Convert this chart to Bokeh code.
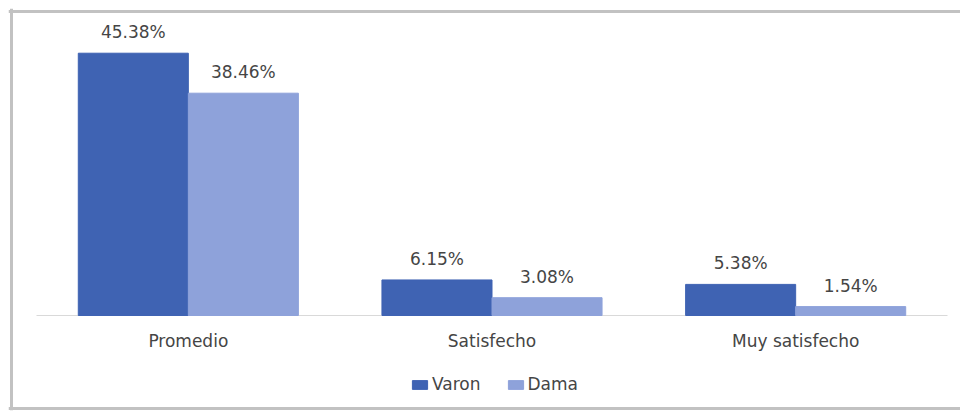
from bokeh.plotting import figure
from bokeh.models import Range1d, ColumnDataSource, Legend, LegendItem, Span
from bokeh.core.properties import value
from bokeh.embed import file_html
from bokeh.resources import INLINE

categories = ["Promedio", "Satisfecho", "Muy satisfecho"]
varon = [45.38, 6.15, 5.38]
dama = [38.46, 3.08, 1.54]
series_names = ["Varon", "Dama"]
colors = ["#3F63B3", "#8EA2DA"]

FONT = "DejaVu Sans"
TXT = "#454545"

# layout (pixels)
W, H = 960, 411
PL, PT, PB = 8, 8, 410          # plot frame edges
BOX_L, BOX_T, BOX_B = 11, 11, 408  # gray chart border
BASE = 315
PX_PER_PCT = 5.78
CAT_L, CAT_R = 36, 947
px_cat = (CAT_R - CAT_L) / len(categories)

x_start = -(CAT_L - PL) / px_cat
x_end = len(categories) + (W - CAT_R) / px_cat
y_start = -(PB - BASE) / PX_PER_PCT
y_end = (BASE - PT) / PX_PER_PCT

xc = [i + 0.5 for i in range(len(categories))]
off = 0.1812
bw = 0.3624

src = ColumnDataSource(dict(
    cat=categories,
    xv=[x - off for x in xc],
    xd=[x + off for x in xc],
    xc=xc,
    zero=[0] * len(categories),
    varon=varon,
    dama=dama,
    varon_lbl=[f"{v:.2f}%" for v in varon],
    dama_lbl=[f"{v:.2f}%" for v in dama],
))

p = figure(width=W, height=H, output_backend="svg", toolbar_location=None,
           x_range=Range1d(x_start, x_end), y_range=Range1d(y_start, y_end),
           x_axis_location=None, y_axis_location=None,
           min_border_left=PL, min_border_right=0, min_border_top=PT,
           min_border_bottom=H - PB)
p.outline_line_color = None
p.background_fill_color = "white"
p.border_fill_color = "white"
p.xgrid.grid_line_color = None
p.ygrid.grid_line_color = None

# gray chart border (open on the right, as in the picture)
border_kw = dict(line_color="#c2c2c2", line_width=3)
p.add_layout(Span(location=(BASE - BOX_T) / PX_PER_PCT, dimension="width", **border_kw))
p.add_layout(Span(location=-(BOX_B - BASE) / PX_PER_PCT, dimension="width", **border_kw))
p.add_layout(Span(location=-(CAT_L - BOX_L) / px_cat, dimension="height", **border_kw))

# baseline (category axis line)
p.segment(x0=[0], x1=[len(categories)], y0=[0], y1=[0],
          line_color="#d9d9d9", line_width=1)

r1 = p.vbar(x="xv", top="varon", width=bw, source=src,
            fill_color=colors[0], line_color=colors[0])
r2 = p.vbar(x="xd", top="dama", width=bw, source=src,
            fill_color=colors[1], line_color=colors[1])

for xcol, col, lbl in (("xv", "varon", "varon_lbl"), ("xd", "dama", "dama_lbl")):
    p.text(x=xcol, y=col, text=lbl, source=src,
           text_align="center", text_baseline="middle", y_offset=-21,
           text_font=value(FONT), text_font_size="17px", text_color=TXT)

# category labels
p.text(x="xc", y="zero", text="cat", source=src,
       text_align="center", text_baseline="middle", y_offset=25,
       text_font=value(FONT), text_font_size="17px", text_color=TXT)

legend = Legend(items=[LegendItem(label=series_names[0], renderers=[r1]),
                       LegendItem(label=series_names[1], renderers=[r2])],
                orientation="horizontal", location=(410 - PL, PB - 394),
                glyph_width=19, glyph_height=11, label_standoff=3, spacing=25,
                padding=0, margin=0, border_line_color=None,
                background_fill_alpha=0,
                label_text_font=FONT, label_text_font_size="17px",
                label_text_color=TXT, label_height=20)
p.add_layout(legend)

open("out.html", "w").write(file_html(p, INLINE))
